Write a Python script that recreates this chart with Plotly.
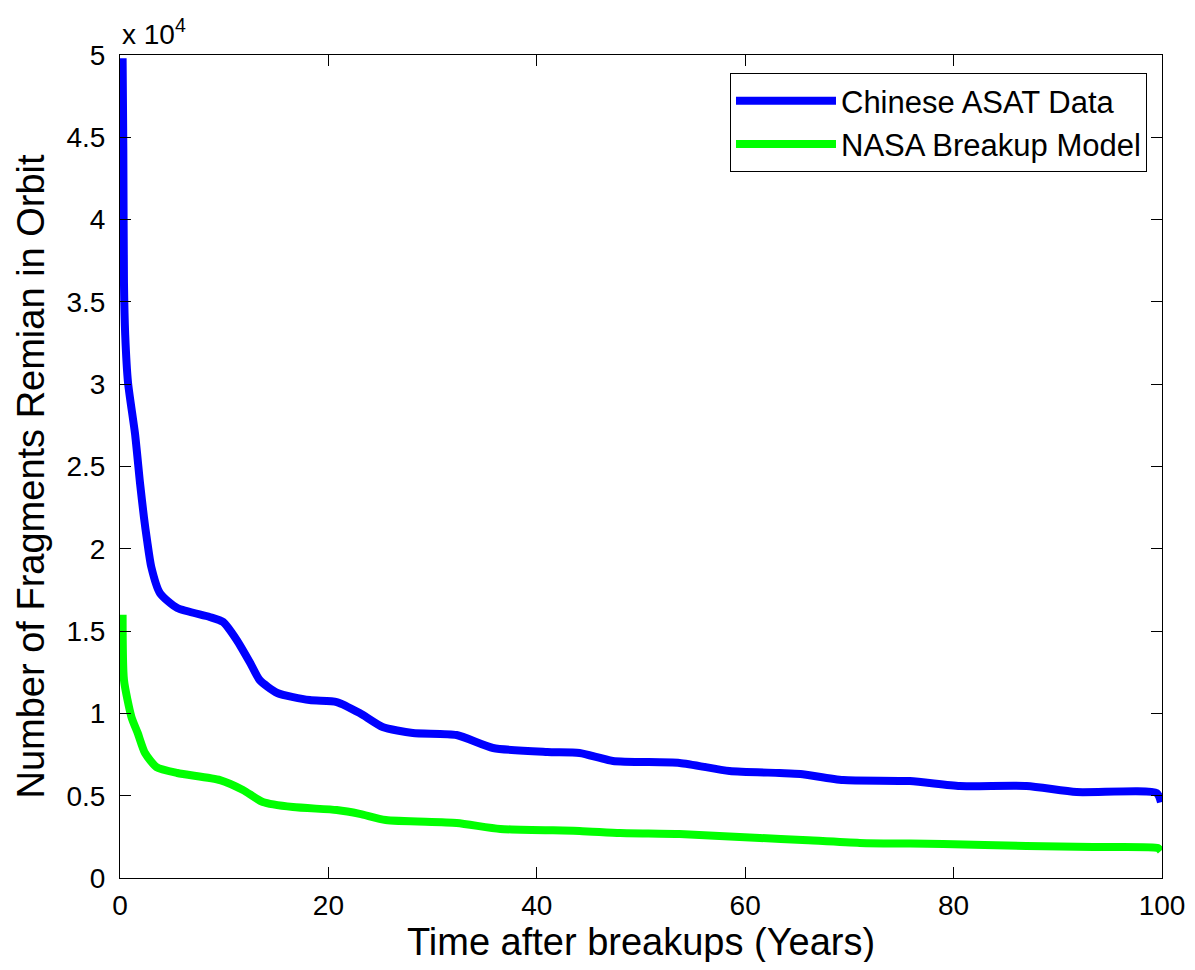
import plotly.graph_objects as go

# values (years, number of fragments)
asat_years = [0.25, 0.32, 0.38, 0.5, 0.77, 1.44, 1.92, 2.3, 2.6, 3.0, 3.84, 5.5, 8.6, 9.9,
              11.2, 12.5, 13.4, 15.1, 18.2, 20.8, 23, 25.2, 28.1, 32.3, 35.8, 41, 44.1,
              47.3, 53.7, 58.5, 63.3, 65.3, 69.4, 75.8, 80.6, 87, 91.8, 99.5, 99.9]
asat_count = [49800, 44200, 36200, 33000, 30100, 27000, 24000, 21900, 20500, 18900, 17300,
              16400, 15860, 15550, 14460, 13060, 12030, 11240, 10810, 10690, 10020, 9170,
              8810, 8690, 7900, 7650, 7590, 7110, 6990, 6500, 6380, 6320, 5950, 5890, 5590,
              5590, 5220, 5160, 4600]

nasa_years = [0.25, 0.38, 1.1, 1.7, 2.4, 3.5, 5.5, 9.6, 11.8, 13.7, 16.6, 20.8, 23, 25.5,
              32.3, 36.5, 44.1, 48, 53.7, 61.4, 65.5, 71, 79, 87, 93.4, 99.6, 99.9]
nasa_count = [16000, 12030, 9780, 8810, 7590, 6740, 6380, 5950, 5350, 4620, 4310, 4130,
              3900, 3520, 3340, 2980, 2860, 2730, 2670, 2430, 2310, 2130, 2070, 1940, 1880,
              1820, 1650]

y_ticks = [0, 5000, 10000, 15000, 20000, 25000, 30000, 35000, 40000, 45000, 50000]
y_labels = ["0", "0.5", "1", "1.5", "2", "2.5", "3", "3.5", "4", "4.5", "5"]
x_ticks = [0, 20, 40, 60, 80, 100]

font = "Arial, Liberation Sans, sans-serif"

fig = go.Figure()
fig.add_trace(go.Scatter(x=asat_years, y=asat_count, mode="lines", name="Chinese ASAT Data",
                         line=dict(color="#0000ff", width=8, shape="spline", smoothing=0.6)))
fig.add_trace(go.Scatter(x=nasa_years, y=nasa_count, mode="lines", name="NASA Breakup Model",
                         line=dict(color="#00ff00", width=8, shape="spline", smoothing=0.6)))

axis_style = dict(showline=True, linecolor="black", linewidth=1, mirror="ticks",
                  ticks="inside", ticklen=11, tickcolor="black", showgrid=False,
                  zeroline=False, automargin=False,
                  tickfont=dict(family=font, size=28, color="black"))

fig.update_xaxes(range=[0, 100], tickvals=x_ticks, ticklabelstandoff=2, **axis_style)
fig.update_yaxes(range=[0, 50000], tickvals=y_ticks, ticktext=y_labels,
                 ticklabelstandoff=8, **axis_style)

# axis titles and exponent label
fig.add_annotation(text="Time after breakups (Years)", xref="paper", yref="paper",
                   x=0.5, y=0, xanchor="center", yanchor="middle", yshift=-64,
                   showarrow=False, font=dict(family=font, size=38, color="black"))
fig.add_annotation(text="Number of Fragments Remian in Orbit", xref="paper", yref="paper",
                   x=0, y=0.5, xanchor="center", yanchor="middle", xshift=-90, yshift=-10,
                   textangle=-90, showarrow=False,
                   font=dict(family=font, size=38, color="black"))
fig.add_annotation(text="x 10<sup>4</sup>", xref="paper", yref="paper", x=0, y=1,
                   xanchor="left", yanchor="bottom", showarrow=False, xshift=0, yshift=3,
                   font=dict(family=font, size=28, color="black"))

fig.update_layout(
    width=1179, height=954,
    margin=dict(l=112, r=25, t=47, b=84),
    paper_bgcolor="white", plot_bgcolor="white",
    legend=dict(x=0.9856, y=0.978, xanchor="right", yanchor="top",
                bordercolor="black", borderwidth=1, bgcolor="white", itemwidth=100,
                font=dict(family=font, size=31, color="black")),
)

fig.write_html("out.html")
